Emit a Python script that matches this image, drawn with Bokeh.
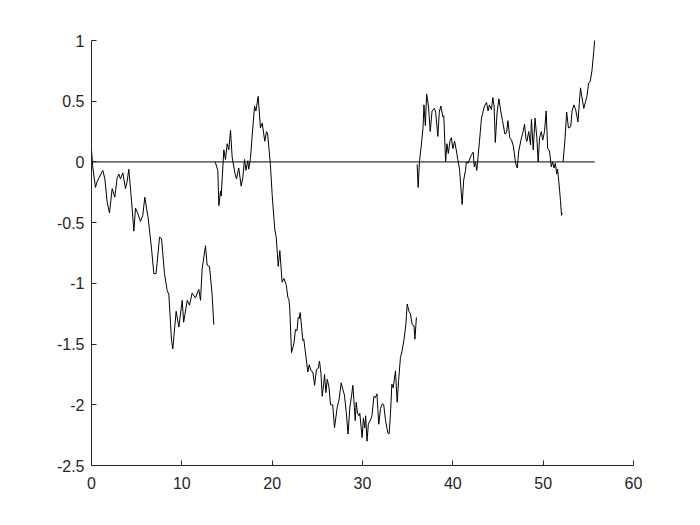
from bokeh.plotting import figure
from bokeh.models import FixedTicker, Range1d
from bokeh.embed import file_html
from bokeh.resources import INLINE

# ---- data ----
seg1_x = [0.0, 0.15, 0.44, 0.63, 1.25, 1.48, 1.73, 1.99, 2.29, 2.58, 2.84, 3.03, 3.2, 3.47, 3.76, 3.95,
          4.13, 4.43, 4.69, 4.87, 5.1, 5.42, 5.68, 5.9, 6.27, 6.64, 6.9, 7.15, 7.53, 7.75, 8.08, 8.38,
          8.56, 8.86, 9.0, 9.37, 9.67, 10.04, 10.2, 10.6, 10.85, 11.14, 11.5, 11.88, 12.07, 12.25,
          12.62, 12.8, 13.06, 13.35, 13.54]
seg1_y = [0.1, -0.05, -0.21, -0.16, -0.07, -0.14, -0.33, -0.42, -0.22, -0.29, -0.13, -0.1, -0.14, -0.09,
          -0.22, -0.16, -0.06, -0.32, -0.57, -0.38, -0.42, -0.49, -0.44, -0.29, -0.46, -0.71, -0.92,
          -0.92, -0.62, -0.63, -0.92, -1.06, -1.09, -1.47, -1.54, -1.23, -1.36, -1.14, -1.32, -1.14,
          -1.18, -1.08, -1.12, -1.05, -1.14, -0.88, -0.69, -0.85, -0.86, -1.09, -1.34]

seg2_x = [13.7, 13.98, 14.1, 14.28, 14.36, 14.65, 14.83, 15.02, 15.2, 15.39, 15.57, 15.87, 16.05, 16.3,
          16.57, 16.75, 16.94, 17.1, 17.3, 17.4, 17.6, 17.8, 18.05, 18.2, 18.45, 18.7, 18.9, 19.18,
          19.37, 19.5, 19.8, 20.0, 20.2, 20.3, 20.45, 20.67, 20.85, 21.1, 21.3, 21.55, 21.75, 21.85,
          21.95, 22.14, 22.4, 22.58, 22.75, 22.88, 23.0, 23.1, 23.4, 23.5, 23.65, 23.95, 24.1, 24.3,
          24.5, 24.7, 24.9, 25.1, 25.24, 25.4, 25.54, 25.7, 25.8, 25.95, 26.1, 26.3, 26.46, 26.7,
          26.9, 27.2, 27.4, 27.64, 27.85, 28.0, 28.2, 28.4, 28.6, 28.8, 28.93, 29.1, 29.2, 29.3,
          29.45, 29.6, 29.7, 29.96, 30.1, 30.25, 30.35, 30.5, 30.65, 30.85, 31.05, 31.26, 31.44,
          31.6, 31.8, 32.0, 32.2, 32.35, 32.55, 32.8, 32.95, 33.1, 33.25, 33.4, 33.65, 33.84, 34.0,
          34.2, 34.4, 34.6, 34.8, 34.95, 35.14, 35.3, 35.5, 35.7, 35.8, 35.97]
seg2_y = [0.0, -0.07, -0.36, -0.24, -0.28, 0.1, 0.02, 0.15, 0.1, 0.26, 0.04, -0.09, -0.14, -0.05,
          -0.2, -0.13, 0.02, -0.07, 0.01, -0.06, 0.03, 0.23, 0.46, 0.42, 0.54, 0.28, 0.32, 0.17,
          0.25, 0.23, -0.02, -0.27, -0.47, -0.56, -0.62, -0.86, -0.73, -0.99, -0.96, -1.01, -1.12,
          -1.13, -1.21, -1.57, -1.5, -1.38, -1.39, -1.28, -1.29, -1.24, -1.47, -1.46, -1.55, -1.73,
          -1.67, -1.72, -1.73, -1.84, -1.71, -1.7, -1.64, -1.74, -1.93, -1.83, -1.75, -1.9, -1.79,
          -1.86, -2.0, -2.0, -2.19, -2.02, -1.96, -1.82, -1.88, -1.92, -2.06, -2.24, -2.02, -1.92,
          -1.84, -2.02, -2.13, -1.98, -2.07, -2.09, -2.07, -2.27, -2.11, -2.19, -2.09, -2.3, -2.16,
          -2.13, -2.09, -1.93, -1.94, -1.91, -2.16, -2.03, -1.99, -2.0, -2.13, -2.23, -2.24, -2.07,
          -1.83, -1.86, -1.72, -1.98, -1.8, -1.61, -1.55, -1.46, -1.34, -1.17, -1.23, -1.25, -1.34,
          -1.35, -1.46, -1.28]

seg3_x = [36.05, 36.16, 36.3, 36.5, 36.7, 36.8, 36.96, 37.1, 37.3, 37.5, 37.7, 37.96, 38.1, 38.34,
          38.5, 38.67, 38.9, 39.0, 39.2, 39.35, 39.5, 39.7, 39.84, 40.0, 40.2, 40.4, 40.55, 40.74,
          41.03, 41.2, 41.4, 41.5, 41.7, 41.9, 42.07, 42.25, 42.37, 42.5, 42.65, 42.8, 42.95, 43.17,
          43.3, 43.5, 43.73, 43.9, 44.05, 44.27, 44.43, 44.57, 44.7, 44.9, 45.1, 45.3, 45.5, 45.76,
          45.95, 46.1, 46.3, 46.5, 46.7, 46.95, 47.13, 47.3, 47.57, 47.75, 47.94, 48.1, 48.2, 48.4,
          48.6, 48.7, 48.9, 49.1, 49.3, 49.45, 49.6, 49.8, 49.95, 50.15, 50.33, 50.5, 50.7, 50.9,
          51.05, 51.2, 51.35, 51.5, 51.6, 51.73, 51.92, 52.03, 52.1]
seg3_y = [-0.02, -0.21, 0.0, 0.13, 0.28, 0.47, 0.3, 0.56, 0.46, 0.25, 0.42, 0.44, 0.41, 0.21, 0.41,
          0.46, 0.37, 0.38, 0.0, 0.15, 0.07, 0.18, 0.2, 0.11, 0.17, 0.09, 0.02, -0.06, -0.35, -0.15,
          -0.07, 0.0, -0.01, 0.03, 0.06, 0.08, -0.04, 0.0, -0.07, 0.05, 0.17, 0.36, 0.4, 0.46, 0.49,
          0.42, 0.47, 0.43, 0.53, 0.46, 0.16, 0.41, 0.52, 0.42, 0.34, 0.23, 0.24, 0.34, 0.2, 0.18,
          0.13, -0.01, -0.05, 0.09, 0.19, 0.24, 0.31, 0.19, 0.17, 0.25, 0.14, 0.35, 0.1, 0.36, 0.2,
          0.0, 0.2, 0.25, 0.18, 0.25, 0.42, 0.11, 0.09, -0.04, 0.0, -0.05, -0.01, -0.1, -0.06,
          -0.16, -0.32, -0.44, -0.42]

seg4_x = [52.2, 52.4, 52.6, 52.8, 53.05, 53.2, 53.4, 53.6, 53.85, 54.0, 54.13, 54.3, 54.5, 54.7,
          54.85, 55.03, 55.2, 55.4, 55.6, 55.7]
seg4_y = [0.0, 0.17, 0.41, 0.28, 0.29, 0.42, 0.47, 0.43, 0.33, 0.48, 0.61, 0.53, 0.44, 0.5, 0.54,
          0.65, 0.66, 0.75, 0.91, 1.01]

zero_x = [0.0, 55.7]
zero_y = [0.0, 0.0]

x_ticks = [0, 10, 20, 30, 40, 50, 60]
y_ticks = [-2.5, -2, -1.5, -1, -0.5, 0, 0.5, 1]
y_tick_labels = ["-2.5", "-2", "-1.5", "-1", "-0.5", "0", "0.5", "1"]

# ---- figure ----
p = figure(width=690, height=515, output_backend="svg", toolbar_location=None,
           x_range=Range1d(0, 60), y_range=Range1d(-2.5, 1),
           min_border_left=91, min_border_right=57, min_border_top=40, min_border_bottom=50)
p.background_fill_color = "white"
p.border_fill_color = "white"
p.outline_line_color = None
p.grid.visible = False

for xs, ys in [(seg1_x, seg1_y), (seg2_x, seg2_y), (seg3_x, seg3_y), (seg4_x, seg4_y), (zero_x, zero_y)]:
    p.line(xs, ys, line_color="black", line_width=1)

axis_col = "#262626"
for ax in (p.xaxis[0], p.yaxis[0]):
    ax.axis_line_color = axis_col
    ax.major_tick_line_color = axis_col
    ax.major_tick_in = 5
    ax.major_tick_out = 0
    ax.minor_tick_line_color = None
    ax.major_label_text_color = axis_col
    ax.major_label_text_font = "Liberation Sans"
    ax.major_label_text_font_size = "16px"

p.xaxis.ticker = FixedTicker(ticks=x_ticks)
p.yaxis.ticker = FixedTicker(ticks=y_ticks)
p.yaxis.major_label_overrides = {v: s for v, s in zip(y_ticks, y_tick_labels)}
p.xaxis.major_label_overrides = {v: str(v) for v in x_ticks}
p.xaxis.major_label_standoff = 11
p.yaxis.major_label_standoff = 7

open("out.html", "w").write(file_html(p, INLINE))
